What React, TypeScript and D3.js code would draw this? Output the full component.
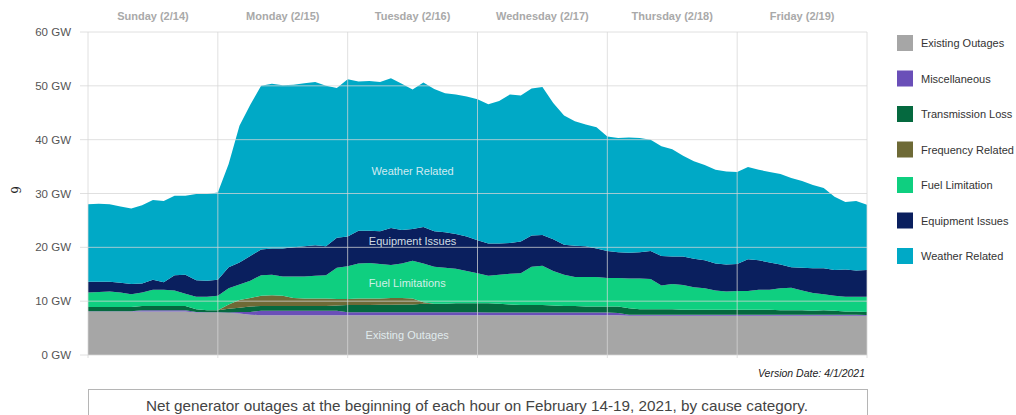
import React, { useEffect } from "react";
import * as d3 from "d3";

const hours: number[] = Array.from({ length: 73 }, (_, i) => i * 2);

const existing = [8.1,8.1,8.1,8.1,8.1,8.1,8.1,8.1,8.1,8.1,7.9,7.9,7.9,7.8,7.7,7.5,
  7.4,7.4,7.4,7.4,7.4,7.4,7.4,7.4,7.4,7.4,7.4,7.4,7.4,7.4,7.4,7.4,7.4,7.4,7.4,7.4,7.4,7.4,7.4,7.4,7.4,7.4,7.4,7.4,7.4,7.4,7.4,7.4,7.4,7.4,
  7.3,7.3,7.3,7.3,7.3,7.3,7.3,7.3,7.3,7.3,7.3,7.3,7.3,7.3,7.3,7.3,7.3,7.3,7.3,7.3,7.3,7.3,7.3];
const misc = [0.05,0.05,0.05,0.05,0.05,0.2,0.2,0.2,0.2,0.2,0.1,0.05,0.05,0.1,0.3,0.5,
  0.8,0.8,0.8,0.8,0.8,0.8,0.8,0.8,
  0.55,0.55,0.55,0.55,0.55,0.55,0.55,0.55,0.55,0.55,0.55,0.55,0.55,
  0.5,0.5,0.5,0.5,0.5,0.5,0.5,0.5,0.5,0.5,0.5,0.5,0.4,
  0.2,0.2,0.2,0.2,0.2,0.2,0.2,0.2,0.2,0.2,0.2,0.2,0.2,0.2,0.2,0.2,0.2,0.2,0.2,0.2,0.2,0.2,0.15];
const transmission = [0.75,0.75,0.75,0.75,0.75,0.8,0.8,0.8,0.8,0.8,0.5,0.35,0.35,0.7,0.8,1.0,
  0.9,0.9,0.9,0.9,0.9,0.9,0.9,1.0,
  1.35,1.35,1.35,1.4,1.4,1.45,1.45,1.55,1.55,1.55,1.65,1.65,1.65,1.7,1.6,1.5,1.4,1.4,1.4,1.3,1.2,1.2,1.1,1.1,1.1,1.2,1.2,1.0,1.0,1.0,1.0,
  0.9,0.9,0.9,0.9,0.9,0.9,0.9,0.9,0.9,
  0.8,0.8,0.8,0.7,0.8,0.7,0.6,0.6,0.55];
const frequency = [0,0,0,0,0,0,0,0,0,0,0,0,0,
  0.8,1.4,1.6,1.9,2.0,1.9,1.5,1.4,1.4,1.4,1.2,1.1,1.2,1.2,1.15,1.25,1.2,1.1,0.3,
  0,0,0,0,0,0,0,0,0,0,0,0,0,0,0,0,0,0,0,0,0,0,0,0,0,0,0,0,0,0,0,0,0,0,0,0,0,0,0,0,0];
const fuel = [2.7,2.8,2.9,2.7,2.4,2.5,3.0,3.0,2.9,2.3,2.3,2.5,2.7,3.0,2.9,3.2,3.8,3.8,3.6,4.0,4.1,4.2,4.3,5.8,
  6.1,6.5,6.6,6.4,6.1,6.4,7.0,7.2,6.9,6.7,6.4,6.0,5.6,5.1,5.4,5.7,5.9,7.1,7.3,6.4,5.8,5.4,5.5,5.5,5.3,5.3,
  5.5,5.7,5.6,4.4,4.7,4.6,4.2,4.0,3.6,3.4,3.5,3.5,3.7,3.7,4.1,4.2,3.7,3.3,3.0,2.8,2.7,2.7,2.8];
const equipment = [2.0,1.9,1.8,1.8,1.9,1.7,1.9,1.4,2.8,3.5,3.1,3.0,3.0,3.9,4.1,4.6,4.8,4.9,5.2,5.4,5.6,5.7,5.4,5.6,
  5.5,6.1,6.0,6.1,6.9,6.2,5.9,6.8,6.6,6.6,6.5,6.4,6.1,6.0,5.8,5.7,5.9,5.8,5.7,5.9,5.6,5.8,5.7,5.3,5.0,4.8,
  4.8,4.9,5.2,5.5,5.1,5.3,5.3,5.2,5.0,5.0,5.0,5.9,5.5,5.1,4.4,3.8,4.2,4.6,4.8,4.8,5.1,4.9,5.0];
const weather = [14.4,14.5,14.4,14.2,14.0,14.5,14.8,15.1,14.8,14.7,16.0,16.1,16.2,19.2,25.4,28.1,30.4,30.6,30.3,30.2,30.3,30.3,29.8,27.8,
  29.2,27.7,27.8,27.7,27.8,27.2,25.9,26.8,26.4,25.8,25.9,26.0,26.2,25.9,26.5,27.6,27.1,27.3,27.5,25.3,24.0,23.1,22.6,22.5,21.3,21.2,
  21.4,21.2,20.7,20.4,19.9,18.7,18.1,17.7,17.4,17.3,17.1,17.1,16.8,16.8,16.8,16.6,16.1,15.5,14.9,13.6,12.5,12.9,12.1];

const seriesKeys = ["existing", "misc", "transmission", "frequency", "fuel", "equipment", "weather"];
const seriesValues: Record<string, number[]> = { existing, misc, transmission, frequency, fuel, equipment, weather };
const seriesColors = ["#a6a6a6", "#6a4fb8", "#05693f", "#6e6a36", "#0fcf80", "#0a1f5e", "#00a9c6"];
const legendLabels = ["Existing Outages", "Miscellaneous", "Transmission Loss", "Frequency Related", "Fuel Limitation", "Equipment Issues", "Weather Related"];
const dayLabels = ["Sunday (2/14)", "Monday (2/15)", "Tuesday (2/16)", "Wednesday (2/17)", "Thursday (2/18)", "Friday (2/19)"];
const yTicks = [0, 10, 20, 30, 40, 50, 60];
const areaLabels = [
  { text: "Weather Related", h: 60, v: 33.5 },
  { text: "Equipment Issues", h: 60, v: 20.4 },
  { text: "Fuel Limitations", h: 59, v: 12.6 },
  { text: "Existing Outages", h: 59, v: 2.9 },
];

export default function App() {
  useEffect(() => {
    document.body.style.margin = "0";
  }, []);

  const W = 1016, H = 415;
  const x0 = 88, x1 = 867, yTop = 32, yBot = 355;
  const x = d3.scaleLinear().domain([0, 144]).range([x0, x1]);
  const y = d3.scaleLinear().domain([0, 60]).range([yBot, yTop]);

  const table = hours.map((h, i) => {
    const row: Record<string, number> = { h };
    seriesKeys.forEach((k) => (row[k] = seriesValues[k][i]));
    return row;
  });
  const stacked = d3.stack<Record<string, number>>().keys(seriesKeys)(table);
  const area = d3
    .area<d3.SeriesPoint<Record<string, number>>>()
    .x((d) => x(d.data.h))
    .y0((d) => y(d[0]))
    .y1((d) => y(d[1]));

  const font = "Arial, 'Liberation Sans', sans-serif";
  const dayTicks = d3.range(0, 145, 24);

  return (
    <svg width={W} height={H} style={{ display: "block", background: "#fff" }}>
      {stacked.map((s, i) => (
        <path key={s.key} d={area(s) || ""} fill={seriesColors[i]} />
      ))}
      {yTicks.map((t) => (
        <g key={t}>
          <line x1={80} x2={x1} y1={y(t)} y2={y(t)} stroke="#d6d6d6" strokeOpacity={0.75} strokeWidth={1} />
          <text x={71} y={y(t) + 4} textAnchor="end" fontFamily={font} fontSize={11.5} fill="#555">
            {t} GW
          </text>
        </g>
      ))}
      {dayTicks.map((h) => (
        <line key={h} x1={x(h)} x2={x(h)} y1={yTop} y2={yBot + 3} stroke="#d6d6d6" strokeOpacity={0.75} strokeWidth={1} />
      ))}
      {dayLabels.map((d, i) => (
        <text key={d} x={x(i * 24 + 12)} y={20} textAnchor="middle" fontFamily={font} fontWeight="bold" fontSize={11} fill="#a9a9a9">
          {d}
        </text>
      ))}
      {areaLabels.map((l) => (
        <text key={l.text} x={x(l.h)} y={y(l.v)} textAnchor="middle" fontFamily={font} fontSize={11} fill="#e8f4f6" fillOpacity={0.9}>
          {l.text}
        </text>
      ))}
      <text transform="translate(21,190) rotate(-90)" textAnchor="middle" fontFamily="'DejaVu Serif', serif" fontSize={12} fill="#222">
        9
      </text>
      {legendLabels.map((l, i) => (
        <g key={l} transform={`translate(897, ${35 + i * 35.5})`}>
          <rect x={0} y={0} width={16} height={16} fill={seriesColors[i]} />
          <text x={24} y={12} fontFamily={font} fontSize={11} fill="#333">
            {l}
          </text>
        </g>
      ))}
      <text x={865} y={377} textAnchor="end" fontFamily="'Liberation Sans Narrow', Arial, sans-serif" fontStyle="italic" fontSize={10.5} fill="#222">
        Version Date: 4/1/2021
      </text>
      <rect x={88.5} y={389.5} width={779} height={40} fill="none" stroke="#b5b5b5" strokeWidth={1} />
      <text x={477} y={411} textAnchor="middle" fontFamily="'Liberation Sans Narrow', Arial, sans-serif" fontSize={15} fill="#444" textLength={662} lengthAdjust="spacingAndGlyphs">
        Net generator outages at the beginning of each hour on February 14-19, 2021, by cause category.
      </text>
    </svg>
  );
}
